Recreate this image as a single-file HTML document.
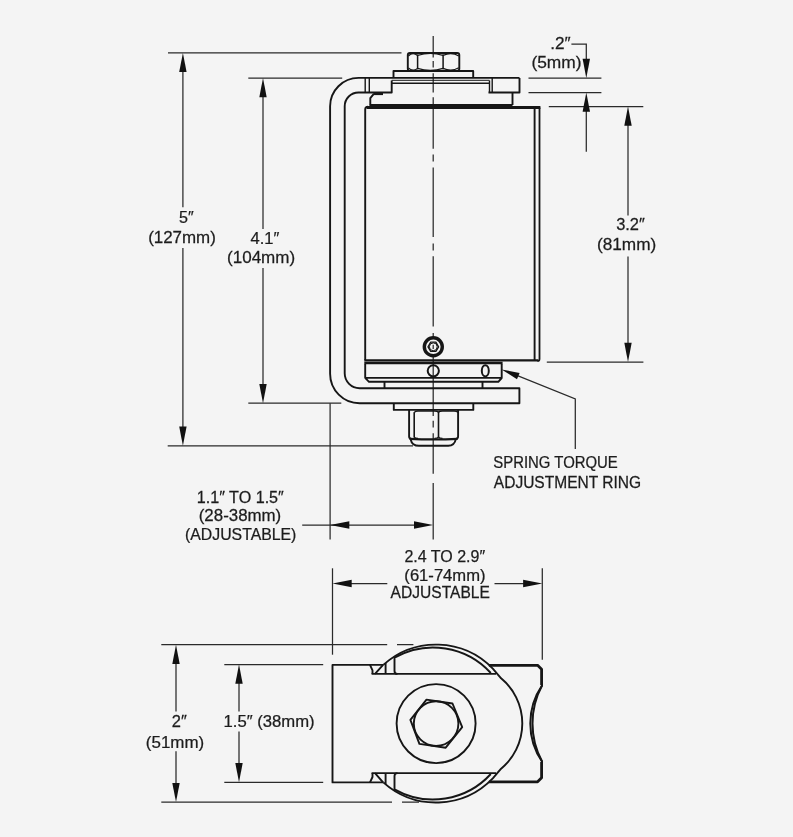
<!DOCTYPE html>
<html lang="en"><head><meta charset="utf-8"><title>Spring hinge dimensions</title>
<style>
html,body{margin:0;padding:0;background:#f4f4f4;}
body{width:793px;height:837px;overflow:hidden;}
svg{display:block;}
text{font-family:"Liberation Sans",sans-serif;font-size:16px;fill:#1c1c1c;stroke:#1c1c1c;stroke-width:0.25;}
.o{fill:none;stroke:#161616;stroke-width:1.9;stroke-linecap:butt;stroke-linejoin:round;}
.ot{fill:none;stroke:#161616;stroke-width:2.2;}
.d{fill:none;stroke:#2a2a2a;stroke-width:1.25;}
.a{fill:#111;stroke:none;}
</style></head><body>
<svg width="793" height="837" viewBox="0 0 793 837">
<rect width="793" height="837" fill="#f4f4f4"/>

<g class="d">
<line x1="433.2" y1="35.9" x2="433.2" y2="57.6"/>
<line x1="433.2" y1="60.9" x2="433.2" y2="67.6"/>
<line x1="433.2" y1="73.2" x2="433.2" y2="92.6"/>
<line x1="433.2" y1="97.2" x2="433.2" y2="148.7"/>
<line x1="433.2" y1="154.5" x2="433.2" y2="161.6"/>
<line x1="433.2" y1="167.4" x2="433.2" y2="237"/>
<line x1="433.2" y1="243.4" x2="433.2" y2="250.5"/>
<line x1="433.2" y1="256.3" x2="433.2" y2="326.5"/>
<line x1="433.2" y1="333" x2="433.2" y2="337.5"/>
<line x1="433.2" y1="344.8" x2="433.2" y2="348.9"/>
<line x1="433.2" y1="355.5" x2="433.2" y2="415.9"/>
<line x1="433.2" y1="420.8" x2="433.2" y2="427.6"/>
<line x1="433.2" y1="433.3" x2="433.2" y2="473.7"/>
<line x1="433.2" y1="483" x2="433.2" y2="539.6"/>
<line x1="168" y1="52.9" x2="401.5" y2="52.9"/>
<line x1="167.7" y1="445.8" x2="413" y2="445.8"/>
<line x1="182.9" y1="60" x2="182.9" y2="207.3"/>
<line x1="182.9" y1="248" x2="182.9" y2="440"/>
<line x1="248.3" y1="78" x2="342.2" y2="78"/>
<line x1="248.3" y1="403.2" x2="341.3" y2="403.2"/>
<line x1="263" y1="85" x2="263" y2="229"/>
<line x1="263" y1="268" x2="263" y2="396"/>
<line x1="528.5" y1="78" x2="601.4" y2="78"/>
<line x1="528.5" y1="92.6" x2="601.4" y2="92.6"/>
<polyline points="571.4,44 586.3,44 586.3,65"/>
<line x1="586.3" y1="100" x2="586.3" y2="151.7"/>
<line x1="548.8" y1="106.6" x2="643.3" y2="106.6"/>
<line x1="546.8" y1="362" x2="643.4" y2="362"/>
<line x1="628" y1="115" x2="628" y2="215.4"/>
<line x1="628" y1="256.5" x2="628" y2="355"/>
<polyline points="510,372.7 575.3,398.8 575.3,449"/>
<line x1="330.1" y1="403.3" x2="330.1" y2="539.6"/>
<line x1="302.2" y1="525" x2="426" y2="525"/>
</g>
<g class="a">
<polygon points="182.9,52.9 186.6,72.1 179.2,72.1"/>
<polygon points="182.9,445.8 179.2,426.6 186.6,426.6"/>
<polygon points="263.0,78.0 266.7,97.2 259.3,97.2"/>
<polygon points="263.0,403.2 259.3,384.0 266.7,384.0"/>
<polygon points="586.3,78.0 582.6,58.8 590.0,58.8"/>
<polygon points="586.3,92.6 590.0,111.8 582.6,111.8"/>
<polygon points="628.0,106.6 631.7,125.8 624.3,125.8"/>
<polygon points="628.0,362.0 624.3,342.8 631.7,342.8"/>
<polygon points="501.6,369.4 519.6,372.9 517.0,379.2"/>
<polygon points="330.1,525.0 349.3,521.3 349.3,528.7"/>
<polygon points="433.2,525.0 414.0,528.7 414.0,521.3"/>
</g>
<g class="o">
<path d="M519.5,77.9 H358.5 A28.4,28.4 0 0 0 330.1,106.3 V373.8 A29.5,29.5 0 0 0 359.6,403.3 H519.4 V388.2 H359.6 A14.9,14.9 0 0 1 344.7,373.3 V106.3 A13.8,13.8 0 0 1 358.5,92.5 H391.7 V80.5"/>
<path d="M519.5,77.9 V92.5 H488.5"/>
<path d="M365.2,77.9 V92.5 M369.3,77.9 V92.5" stroke-width="1.4"/>
<path d="M391.7,80.3 H489.5" stroke-width="1"/><path d="M391.7,83.3 H489.5 M489.5,80.4 V92.5 M492.2,77.9 V92.5" stroke-width="1.4"/>
<path d="M393.5,77.9 V71 H473.2 V77.9"/>
<path d="M409.7,70.8 Q407.8,70.8 407.8,68.8 V55 Q407.8,53 409.8,53 H457.3 Q459.3,53 459.3,55 V68.8 Q459.3,70.8 457.3,70.8"/>
<path d="M417.6,54.6 V69.2 M443.1,54.6 V69.2" stroke-width="1.5"/>
<path d="M417.6,55.4 Q430.3,51.6 443.1,55.4 M417.6,68.4 Q430.3,72.2 443.1,68.4 M408.4,56 Q412.5,51.8 417.6,55.4 M408.4,67.8 Q412.5,72 417.6,68.4 M443.1,55.4 Q451.5,51.6 458.8,56 M443.1,68.4 Q451.5,72.2 458.8,67.8" stroke-width="1.2"/>
<path d="M374,93.6 L370.3,98.2 V104.6 M512.5,92.5 V105"/>
<path d="M368,106.6 Q365.2,106.6 365.2,109.4 V360 M534.6,108 V360"/>
<path d="M539.5,107.5 V359 Q539.5,361 537.5,361" stroke-width="1.8"/>
<path d="M365.2,364 V377.8 L369,381.8 H498.3 L501.7,378 V364 M365.6,377.9 H501.4"/>
<path d="M384.5,381.8 V388.2 M482.5,381.8 V388.2"/>
<path d="M393.8,403.3 V409.9 H473.3 V403.3"/>
<path d="M409.1,409.9 V436.4 Q409.1,438.6 411.2,438.8 M458.1,409.9 V436.4 Q458.1,438.6 456,438.8"/>
<path d="M414.2,412.2 V437.4 M438.5,412.2 V437.6" stroke-width="1.6"/>
<path d="M414.2,412.6 Q415,411 418,411 H434.5 Q437.8,411 438.5,412.6 Q439.2,411 442.5,411 H454 Q457.4,411 457.8,412.6 M414.2,437 Q415,438.4 418,438.4 M438.5,437 Q437.8,438.4 434.5,438.4 M438.5,437 Q439.2,438.4 442.5,438.4" stroke-width="1.3"/>
<path d="M409.6,438.9 Q433.6,440 457.6,438.9" stroke-width="2.2"/>
<path d="M410.6,439.2 Q412,445.8 419,445.8 H448.2 Q454.6,445.8 455.8,439.2"/>
<circle cx="433.3" cy="370.8" r="5.6" stroke-width="2"/>
<ellipse cx="485.3" cy="370.8" rx="3.5" ry="5.6" stroke-width="2"/>
<circle cx="433.3" cy="346.8" r="9" stroke-width="3.4"/>
<circle cx="433.3" cy="346.8" r="3.9" stroke-width="1"/>
<polygon points="438.6,346.8 435.9,351.4 430.7,351.4 428.0,346.8 430.7,342.2 435.9,342.2" stroke-width="1.3"/>
</g>
<g fill="none" stroke="#161616">
<path d="M374,93.8 H383" stroke-width="2.6"/>
<path d="M369.4,105.3 H512.5" stroke-width="2.4"/>
<path d="M366.6,107.4 H540.4" stroke-width="3"/>
<path d="M364.3,360.3 H538" stroke-width="2.3"/>
<path d="M364.3,363 H502.6" stroke-width="2.4"/>
</g>
<g class="d">
<line x1="332.5" y1="568.3" x2="332.5" y2="654.7"/>
<line x1="542.3" y1="568.3" x2="542.3" y2="659.7"/>
<line x1="340" y1="583.5" x2="387.3" y2="583.5"/>
<line x1="494.5" y1="583.5" x2="535" y2="583.5"/>
<path d="M161.3,644.7 H387.2 M397,644.7 H413.4 M161.3,802.1 H392 M402,802.1 H419"/>
<path d="M176,652 V711.4 M176,751.3 V795"/>
<path d="M224.3,664.6 H323.2 M224.3,782.3 H323.2"/>
<path d="M239,672 V711.4 M239,731.6 V775"/>
</g>
<g class="a">
<polygon points="332.5,583.5 351.7,579.8 351.7,587.2"/>
<polygon points="542.3,583.5 523.1,587.2 523.1,579.8"/>
<polygon points="176.0,644.7 179.7,663.9 172.3,663.9"/>
<polygon points="176.0,802.1 172.3,782.9 179.7,782.9"/>
<polygon points="239.0,664.6 242.7,683.8 235.3,683.8"/>
<polygon points="239.0,782.3 235.3,763.1 242.7,763.1"/>
</g>
<g class="o">
<path d="M383.3,664.9 H332.5 V782.4 H383.3"/>
<path d="M383.3,664.9 A78.9,78.9 0 0 1 492.8,668.6 L501.1,678.3 A58.8,58.8 0 0 1 501.1,768.7 L492.8,778.4 A78.9,78.9 0 0 1 383.3,782.4"/>
<path d="M490.8,673.0 A78.2,78.2 0 0 0 394.5,657.7 V670.9 Q394.5,673.9 397.5,673.9"/>
<path d="M490.8,774.0 A78.2,78.2 0 0 1 394.5,789.3 V776.1 Q394.5,773.1 397.5,773.1"/>
<path d="M371.6,673.9 H496 M371.6,773.1 H496"/>
<path d="M370,664.9 L372.5,670.3 V673.9 M383.1,664.9 L375,673.9"/>
<path d="M370,782.4 L372.5,777.0 V773.1 M383.1,782.4 L375,773.1"/>
<path d="M385.6,662.9 V673.9 M385.6,784.1 V773.1"/>
<circle cx="436.1" cy="723.6" r="39.5"/>
<circle cx="436.1" cy="723.6" r="22.3"/>
<polygon points="410.4,719.9 426.5,699.6 452.5,703.5 462.2,727.1 445.7,747.7 419.4,743.9"/>
</g>
<g fill="none" stroke="#161616" stroke-linejoin="round">
<path d="M488.9,665.3 H537.6 L541.6,669.2 V685 M488.9,781.8 H537.6 L541.6,777.8 V762" stroke-width="2.8"/>
<path d="M542.3,685 A67.8,67.8 0 0 0 542.3,762" stroke-width="2"/>
<path d="M542.3,685 A80.5,80.5 0 0 0 542.3,762" stroke-width="2"/>
</g>
<g opacity="0.999">
<text transform="translate(178.94,222.6) scale(1.0074,1)">5″</text>
<text transform="translate(148.14,242.7) scale(1.0581,1)">(127mm)</text>
<text transform="translate(250.44,243.5) scale(1.0349,1)">4.1″</text>
<text transform="translate(227.04,263.0) scale(1.0645,1)">(104mm)</text>
<text transform="translate(550.19,48.9) scale(1.0725,1)">.2″</text>
<text transform="translate(531.42,68.4) scale(1.0847,1)">(5mm)</text>
<text transform="translate(616.13,230.3) scale(1.0280,1)">3.2″</text>
<text transform="translate(596.92,250.0) scale(1.0779,1)">(81mm)</text>
<text transform="translate(493.30,468.1) scale(0.9323,1)">SPRING TORQUE</text>
<text transform="translate(493.80,487.9) scale(0.9714,1)">ADJUSTMENT RING</text>
<text transform="translate(196.74,503.3) scale(1.0088,1)">1.1″ TO 1.5″</text>
<text transform="translate(198.75,521.4) scale(1.0544,1)">(28-38mm)</text>
<text transform="translate(185.01,539.6) scale(0.9896,1)">(ADJUSTABLE)</text>
<text transform="translate(404.45,562.2) scale(1.0000,1)">2.4 TO 2.9″</text>
<text transform="translate(404.36,581.1) scale(1.0387,1)">(61-74mm)</text>
<text transform="translate(390.60,597.9) scale(0.9738,1)">ADJUSTABLE</text>
<text transform="translate(171.73,727.4) scale(1.0296,1)">2″</text>
<text transform="translate(145.84,747.6) scale(1.0592,1)">(51mm)</text>
<text transform="translate(223.50,727.4) scale(1.0428,1)">1.5″ (38mm)</text>
</g>
</svg></body></html>
